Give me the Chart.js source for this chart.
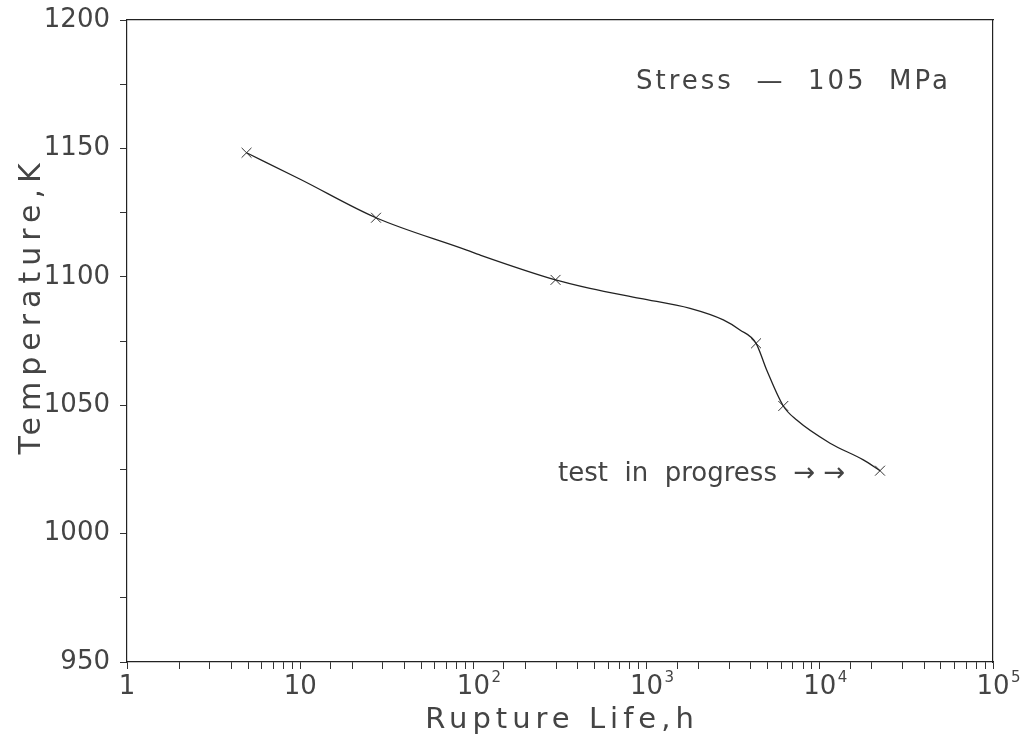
<!DOCTYPE html>
<html>
<head>
<meta charset="utf-8">
<script src="https://cdn.jsdelivr.net/npm/chart.js@4/dist/chart.umd.min.js"></script>
<style>
  html, body { margin: 0; padding: 0; background: #fff; }
  #wrap { width: 1021px; height: 738px; position: relative; }
</style>
</head>
<body>
<div id="wrap"><canvas id="chart"></canvas></div>
<script>
// measured test points (rupture life in h, temperature in K)
const markerLife = [4.9, 27.4, 298, 4285, 6155, 22270];
const markerTemp = [1148.3, 1123, 1098.8, 1074.1, 1049.7, 1024.5];

// hand-drawn curve through the points
const curveLife = [4.9, 10, 27.4, 91.5, 109, 298, 471, 916, 1782, 2773, 3458, 4285, 4935, 6155, 7360, 11460, 17830, 22270];
const curveTemp = [1148.3, 1138, 1123, 1110.4, 1108.5, 1098.8, 1095.5, 1091.6, 1087.7, 1083.2, 1079.3, 1074.1, 1063.7, 1049.7, 1044.2, 1035.2, 1028.7, 1024.5];

const decades = [1, 10, 100, 1000, 10000, 100000];
const decadeExp = ['', '', '2', '3', '4', '5'];

const ink = '#444';
const fontFamily = '"DejaVu Sans", sans-serif';

const toPoints = (xs, ys) => xs.map((x, i) => ({ x: x, y: ys[i] }));

/**
 * Axis titles (spaced out like the plotter lettering), exponents and notes
 */
const notesPlugin = {
    id: 'notes',
    afterDraw(chart) {
        const ctx = chart.ctx;
        const xs = chart.scales.x;
        const area = chart.chartArea;
        ctx.save();
        ctx.fillStyle = ink;
        ctx.textBaseline = 'alphabetic';

        // exponents next to the "10" labels
        ctx.font = '15px ' + fontFamily;
        ctx.textAlign = 'left';
        decades.forEach((d, i) => {
            if (!decadeExp[i]) return;
            ctx.fillText(decadeExp[i], xs.getPixelForValue(d) + 18, 682);
        });

        // axis titles
        ctx.font = '29px ' + fontFamily;
        ctx.letterSpacing = '5px';
        ctx.textAlign = 'center';
        ctx.fillText('Rupture Life,h', (area.left + area.right) / 2 + 2, 728);

        ctx.save();
        ctx.font = '30px ' + fontFamily;
        ctx.letterSpacing = '6px';
        ctx.translate(40, 306);
        ctx.rotate(-Math.PI / 2);
        ctx.fillText('Temperature,K', 0, 0);
        ctx.restore();

        // notes inside the plot
        ctx.font = '26px ' + fontFamily;
        ctx.letterSpacing = '3px';
        ctx.textAlign = 'left';
        ctx.fillText('Stress  \u2014  105  MPa', 636, 89);
        ctx.letterSpacing = '0px';
        ctx.fillText('test  in  progress  \u2192 \u2192', 558, 481);
        ctx.restore();
    }
};

new Chart(document.getElementById('chart'), {
    type: 'scatter',
    data: {
        datasets: [
            {
                data: toPoints(curveLife, curveTemp),
                showLine: true,
                borderColor: '#222',
                borderWidth: 1.3,
                pointRadius: 0,
                cubicInterpolationMode: 'monotone',
                fill: false,
            },
            {
                data: toPoints(markerLife, markerTemp),
                showLine: false,
                pointStyle: 'crossRot',
                pointRadius: 7,
                borderColor: '#333',
                borderWidth: 1,
            }
        ]
    },
    options: {
        responsive: true,
        maintainAspectRatio: false,
        animation: false,
        layout: { padding: { top: 20, right: 28, left: 0, bottom: 0 } },
        plugins: {
            legend: { display: false },
            tooltip: { enabled: false },
        },
        scales: {
            x: {
                type: 'logarithmic',
                min: 1,
                max: 100000,
                border: { display: true, color: '#222', width: 1.2 },
                grid: {
                    drawOnChartArea: false,
                    drawTicks: true,
                    tickLength: 7,
                    color: '#333',
                },
                ticks: {
                    autoSkip: false,
                    maxRotation: 0,
                    color: ink,
                    padding: 3,
                    font: { family: fontFamily, size: 26 },
                    callback: (value) => {
                        const idx = decades.indexOf(value);
                        if (idx < 0) return '';
                        return idx === 0 ? '1' : '10';
                    }
                },
                afterFit: (scale) => {
                    scale.height = 76;
                    scale.paddingLeft = 0;
                    scale.paddingRight = 0;
                },
            },
            y: {
                min: 950,
                max: 1200,
                border: { display: true, color: '#222', width: 1.2 },
                grid: {
                    drawOnChartArea: false,
                    drawTicks: true,
                    tickLength: 7,
                    color: '#333',
                },
                ticks: {
                    stepSize: 25,
                    color: ink,
                    padding: 10,
                    font: { family: fontFamily, size: 26 },
                    callback: (value) => (value % 50 === 0 ? String(value) : ''),
                },
                afterFit: (scale) => {
                    scale.width = 127;
                    scale.paddingTop = 0;
                    scale.paddingBottom = 0;
                },
            },
            x2: {
                type: 'logarithmic',
                position: 'top',
                min: 1,
                max: 100000,
                border: { display: true, color: '#222', width: 1.2 },
                grid: { display: false },
                ticks: { display: false },
                afterFit: (scale) => { scale.height = 0; },
            },
            y2: {
                position: 'right',
                min: 950,
                max: 1200,
                border: { display: true, color: '#222', width: 1.2 },
                grid: { display: false },
                ticks: { display: false },
                afterFit: (scale) => { scale.width = 0; },
            }
        }
    },
    plugins: [notesPlugin]
});
</script>
</body>
</html>
